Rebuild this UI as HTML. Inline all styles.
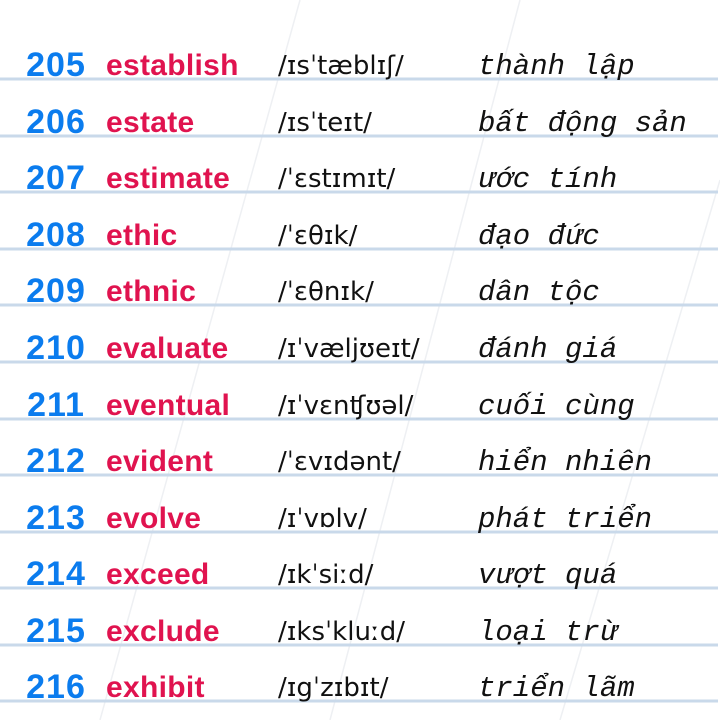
<!DOCTYPE html>
<html><head><meta charset="utf-8"><style>
html,body{margin:0;padding:0;background:#fff;}
svg{display:block}
.n{font-family:"Liberation Sans",sans-serif;font-weight:bold;font-size:34px;fill:#0b7cee;text-anchor:middle;letter-spacing:1px}
.w{font-family:"Liberation Sans",sans-serif;font-weight:bold;font-size:30px;fill:#e0134f;letter-spacing:0.3px}
.p{font-family:"DejaVu Sans",sans-serif;font-size:26px;fill:#111}
.v{font-family:"Liberation Mono","DejaVu Sans Mono",monospace;font-style:italic;font-size:29px;fill:#111}
</style></head><body>
<svg width="720" height="720" viewBox="0 0 720 720" xmlns="http://www.w3.org/2000/svg">
<rect width="720" height="720" fill="#fff"/>
<g stroke="#eef0f3" stroke-width="1.5">
<line x1="100" y1="720" x2="300" y2="0"/>
<line x1="330" y1="720" x2="520" y2="0"/>
<line x1="560" y1="720" x2="720" y2="180"/>
</g>
<g stroke="#c9d9ea" stroke-width="3">
<line x1="0" y1="79" x2="718" y2="79"/>
<line x1="0" y1="136" x2="718" y2="136"/>
<line x1="0" y1="192" x2="718" y2="192"/>
<line x1="0" y1="249" x2="718" y2="249"/>
<line x1="0" y1="305" x2="718" y2="305"/>
<line x1="0" y1="362" x2="718" y2="362"/>
<line x1="0" y1="419" x2="718" y2="419"/>
<line x1="0" y1="475" x2="718" y2="475"/>
<line x1="0" y1="532" x2="718" y2="532"/>
<line x1="0" y1="588" x2="718" y2="588"/>
<line x1="0" y1="645" x2="718" y2="645"/>
<line x1="0" y1="701" x2="718" y2="701"/>
</g>
<g>
<text class="n" x="56" y="76">205</text><text class="w" x="106" y="75">establish</text><text class="p" x="278" y="74">/ɪsˈtæblɪʃ/</text><text class="v" x="478" y="74">th&#xE0;nh l&#x1EAD;p</text>
<text class="n" x="56" y="133">206</text><text class="w" x="106" y="132">estate</text><text class="p" x="278" y="131">/ɪsˈteɪt/</text><text class="v" x="478" y="131">b&#x1EA5;t &#x111;&#x1ED9;ng s&#x1EA3;n</text>
<text class="n" x="56" y="189">207</text><text class="w" x="106" y="188">estimate</text><text class="p" x="278" y="187">/ˈɛstɪmɪt/</text><text class="v" x="478" y="187">&#x1B0;&#x1EDB;c t&#xED;nh</text>
<text class="n" x="56" y="246">208</text><text class="w" x="106" y="245">ethic</text><text class="p" x="278" y="244">/ˈɛθɪk/</text><text class="v" x="478" y="244">&#x111;&#x1EA1;o &#x111;&#x1EE9;c</text>
<text class="n" x="56" y="302">209</text><text class="w" x="106" y="301">ethnic</text><text class="p" x="278" y="300">/ˈɛθnɪk/</text><text class="v" x="478" y="300">d&#xE2;n t&#x1ED9;c</text>
<text class="n" x="56" y="359">210</text><text class="w" x="106" y="358">evaluate</text><text class="p" x="278" y="357">/ɪˈvæljʊeɪt/</text><text class="v" x="478" y="357">&#x111;&#xE1;nh gi&#xE1;</text>
<text class="n" x="56" y="416">211</text><text class="w" x="106" y="415">eventual</text><text class="p" x="278" y="414">/ɪˈvɛnʧʊəl/</text><text class="v" x="478" y="414">cu&#x1ED1;i c&#xF9;ng</text>
<text class="n" x="56" y="472">212</text><text class="w" x="106" y="471">evident</text><text class="p" x="278" y="470">/ˈɛvɪdənt/</text><text class="v" x="478" y="470">hi&#x1EC3;n nhi&#xEA;n</text>
<text class="n" x="56" y="529">213</text><text class="w" x="106" y="528">evolve</text><text class="p" x="278" y="527">/ɪˈvɒlv/</text><text class="v" x="478" y="527">ph&#xE1;t tri&#x1EC3;n</text>
<text class="n" x="56" y="585">214</text><text class="w" x="106" y="584">exceed</text><text class="p" x="278" y="583">/ɪkˈsiːd/</text><text class="v" x="478" y="583">v&#x1B0;&#x1EE3;t qu&#xE1;</text>
<text class="n" x="56" y="642">215</text><text class="w" x="106" y="641">exclude</text><text class="p" x="278" y="640">/ɪksˈkluːd/</text><text class="v" x="478" y="640">lo&#x1EA1;i tr&#x1EEB;</text>
<text class="n" x="56" y="698">216</text><text class="w" x="106" y="697">exhibit</text><text class="p" x="278" y="696">/ɪgˈzɪbɪt/</text><text class="v" x="478" y="696">tri&#x1EC3;n l&#xE3;m</text>
</g>
</svg>
</body></html>
